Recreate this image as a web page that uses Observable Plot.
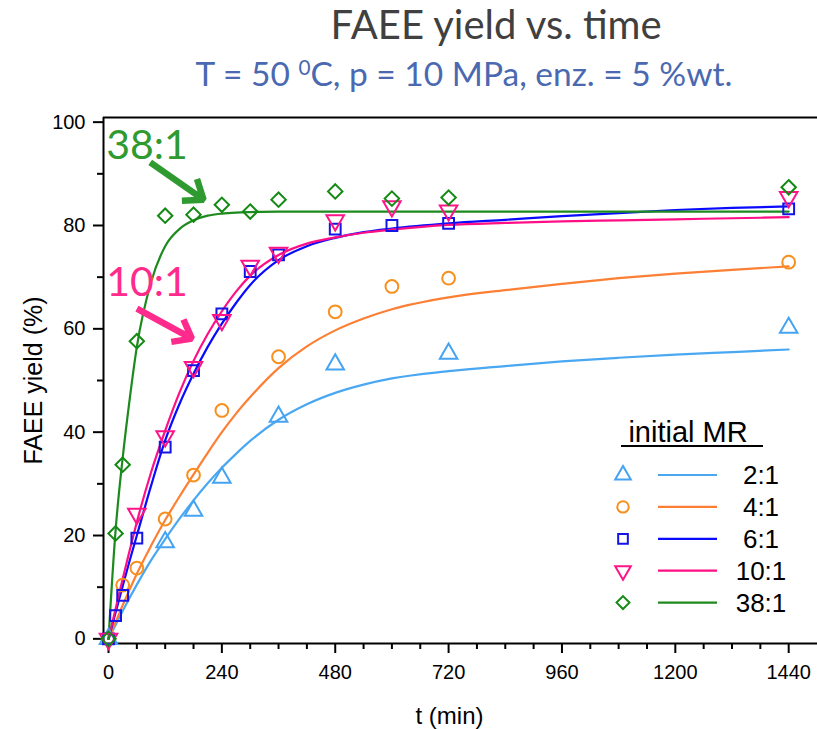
<!DOCTYPE html>
<html>
<head>
<meta charset="utf-8">
<script src="https://cdn.jsdelivr.net/npm/d3@7"></script>
<script src="https://cdn.jsdelivr.net/npm/@observablehq/plot@0.6"></script>
<style>
  body { margin: 0; background: #ffffff; }
  #page { position: relative; width: 817px; height: 729px; overflow: hidden; background: #fff; }
  #header { position: relative; width: 817px; height: 100px; }
  #title { position: absolute; left: 496px; top: 4px; transform: translateX(-50%); white-space: nowrap;
           font-family: Lato, "Open Sans", sans-serif; font-size: 40px; line-height: 40px; color: #404040; }
  #subtitle { position: absolute; left: 464px; top: 57px; transform: translateX(-50%); white-space: nowrap;
           font-family: Lato, "Open Sans", sans-serif; font-size: 33.5px; line-height: 33px; color: #4a69b0; }
  #subtitle sup { font-size: 0.62em; line-height: 0; vertical-align: 0.55em; }
  #chart { position: relative; width: 817px; height: 629px; }
  #legend { position: absolute; left: 600px; top: 300px; }
</style>
</head>
<body>
<div id="page">
  <div id="header">
    <div id="title">FAEE yield vs. time</div>
    <div id="subtitle">T = 50 <sup>0</sup>C, p = 10 MPa, enz. = 5 %wt.</div>
  </div>
  <div id="chart"></div>
</div>
<script>
// ---------- data ----------
const seriesNames = ["2:1", "4:1", "6:1", "10:1", "38:1"];

// measured points (t in min, FAEE yield in %)
const t_2_1  = [0, 120, 180, 240, 360, 480, 720, 1440];
const y_2_1  = [0, 18.7, 24.8, 31.2, 43.0, 53.1, 55.2, 60.2];
const t_4_1  = [0, 30, 60, 120, 180, 240, 360, 480, 600, 720, 1440];
const y_4_1  = [0, 10.4, 13.7, 23.2, 31.7, 44.2, 54.6, 63.3, 68.2, 69.8, 72.9];
const t_6_1  = [0, 15, 30, 60, 120, 180, 240, 300, 360, 480, 600, 720, 1440];
const y_6_1  = [0, 4.5, 8.4, 19.5, 37.1, 51.9, 62.9, 71.1, 74.3, 79.3, 80.0, 80.4, 83.2];
const t_10_1 = [0, 60, 120, 180, 240, 300, 360, 480, 600, 720, 1440];
const y_10_1 = [0, 24.2, 39.2, 52.6, 61.7, 72.2, 74.7, 81.0, 83.7, 82.9, 85.5];
const t_38_1 = [0, 15, 30, 60, 120, 180, 240, 300, 360, 480, 600, 720, 1440];
const y_38_1 = [0, 20.4, 33.7, 57.6, 81.9, 82.1, 84.0, 82.7, 85.0, 86.6, 85.2, 85.4, 87.4];

// fitted curves at these times
const fitT     = [0, 15, 30, 45, 60, 90, 120, 150, 180, 210, 240, 270, 300, 360, 420, 480, 540, 600, 720, 840, 960, 1080, 1200, 1320, 1440];
const fit_2_1  = [0, 2.7, 5.4, 8.0, 10.5, 15.2, 19.3, 23.2, 26.8, 30.1, 33.1, 35.8, 38.3, 42.4, 45.4, 47.6, 49.2, 50.4, 51.8, 52.8, 53.7, 54.4, 55.0, 55.5, 56.0];
const fit_4_1  = [0, 3.2, 6.5, 9.6, 12.6, 18.0, 23.0, 27.5, 31.8, 36.0, 40.0, 43.6, 46.8, 52.4, 56.6, 59.7, 62.0, 63.8, 66.1, 67.5, 68.7, 69.8, 70.7, 71.4, 72.1];
const fit_6_1  = [0, 5.1, 10.2, 15.2, 20.0, 29.6, 38.4, 45.4, 51.3, 56.5, 61.0, 65.0, 68.5, 73.3, 76.0, 77.6, 78.7, 79.4, 80.4, 81.1, 81.8, 82.4, 83.0, 83.4, 83.7];
const fit_10_1 = [0, 5.8, 11.6, 17.2, 22.6, 32.2, 40.3, 47.6, 53.8, 59.0, 63.4, 67.2, 70.3, 74.3, 76.5, 77.7, 78.6, 79.2, 80.1, 80.5, 80.8, 81.0, 81.2, 81.4, 81.6];
const fit_38_1 = [0, 21.0, 35.0, 46.5, 56.5, 69.0, 76.0, 79.3, 81.0, 81.9, 82.3, 82.5, 82.6, 82.7, 82.7, 82.7, 82.7, 82.7, 82.7, 82.7, 82.7, 82.7, 82.7, 82.7, 82.7];

// axis ticks
const xMajor = [0, 240, 480, 720, 960, 1200, 1440];
const xMinor = [60, 120, 180, 300, 360, 420, 540, 600, 660, 780, 840, 900, 1020, 1080, 1140, 1260, 1320, 1380];
const yMajor = [0, 20, 40, 60, 80, 100];
const yMinor = [10, 30, 50, 70, 90];
const xDomain = [-10.6, 1501];
const yDomain = [-0.9, 100.9];

// annotations
const annLabels = ["38:1", "10:1"];
const annT = [-5, -5];
const annY = [92.9, 66.4];
const arrowT1 = [88.3, 60.1];
const arrowY1 = [92.2, 63.9];
const arrowT2 = [201.2, 176.6];
const arrowY2 = [85.0, 58.1];

const xLabel = "t (min)";
const yLabel = "FAEE yield (%)";
const legendTitle = "initial MR";

// ---------- styles ----------
const markerColors = ["#45a3f2", "#f7901e", "#1414e6", "#ff1488", "#138a13"];
const lineColors   = ["#4aa8f2", "#fd7f34", "#0a0aff", "#ff0f86", "#1d8a1d"];
const symbols      = ["triangle", "circle", "square", "triangle", "diamond2"];
const rotations    = [0, 0, 0, 180, 0];
const radii        = [6.5, 6.4, 6.1, 6.5, 6.5];
const annColors    = ["#2f9a2f", "#ff2b8c"];

const pts = [[t_2_1, y_2_1], [t_4_1, y_4_1], [t_6_1, y_6_1], [t_10_1, y_10_1], [t_38_1, y_38_1]]
  .map(([ts, ys], k) => ts.map((t, i) => ({t, y: ys[i], s: k})));
const fits = [fit_2_1, fit_4_1, fit_6_1, fit_10_1, fit_38_1]
  .map((ys, k) => fitT.map((t, i) => ({t, y: ys[i], s: k})));
const ann = annLabels.map((label, i) => ({label, t: annT[i], y: annY[i], x1: arrowT1[i], y1: arrowY1[i], x2: arrowT2[i], y2: arrowY2[i], c: annColors[i]}));

const axisFont = "'Liberation Sans', Arial, sans-serif";

const marks = [
  // frame lines
  Plot.ruleY([yDomain[0]], {stroke: "black", strokeWidth: 2}),
  Plot.ruleY([yDomain[1]], {stroke: "black", strokeWidth: 2}),
  Plot.ruleX([xDomain[0]], {stroke: "black", strokeWidth: 2}),
  // axes
  Plot.axisX(xMajor, {tickSize: 10, tickPadding: 11, strokeWidth: 2, fontSize: 20, tickFormat: d => String(d)}),
  Plot.axisX(xMinor, {tickSize: 6, strokeWidth: 2, tickFormat: () => ""}),
  Plot.axisY(yMajor, {tickSize: 10, tickPadding: 8, strokeWidth: 2, fontSize: 20, tickFormat: d => String(d)}),
  Plot.axisY(yMinor, {tickSize: 6, strokeWidth: 2, tickFormat: () => ""}),
  Plot.text([xLabel], {frameAnchor: "bottom", textAnchor: "middle", dx: -11, dy: 80, fontSize: 24, fill: "black"}),
  Plot.text([yLabel], {frameAnchor: "left", textAnchor: "middle", dx: -70, rotate: -90, fontSize: 25, fill: "black"}),
];
fits.forEach((d, k) => marks.push(Plot.line(d, {x: "t", y: "y", stroke: lineColors[k], strokeWidth: 2.2, curve: "monotone-x"})));
pts.forEach((d, k) => marks.push(Plot.dot(d, {x: "t", y: "y", symbol: symbols[k], r: radii[k], rotate: rotations[k],
  stroke: markerColors[k], strokeWidth: 2, fill: "none"})));
marks.push(
  Plot.arrow(ann, {x1: "x1", y1: "y1", x2: "x2", y2: "y2", stroke: "c", strokeWidth: 6.5, headLength: 20, headAngle: 75,
    strokeLinejoin: "miter", strokeLinecap: "butt"}),
  Plot.text(ann, {x: "t", y: "y", text: "label", fill: "c", fontSize: 41, textAnchor: "start", lineAnchor: "bottom",
    fontFamily: "Lato, 'Open Sans', sans-serif"})
);

const chart = Plot.plot({
  width: 817,
  height: 629,
  marginTop: 17,
  marginLeft: 103,
  marginRight: 0,
  marginBottom: 86,
  x: {domain: xDomain, label: null},
  y: {domain: yDomain, label: null},
  color: {type: "identity"},
  style: {fontFamily: axisFont, background: "transparent", color: "black", overflow: "visible"},
  marks
});
document.getElementById("chart").appendChild(chart);

// ---------- legend (overlay inside the plot area) ----------
const lg = d3.select("#chart").append("svg").attr("id", "legend").attr("width", 217).attr("height", 230)
  .style("font-family", axisFont);
lg.append("text").attr("x", 88).attr("y", 42).attr("text-anchor", "middle").attr("font-size", 29).attr("fill", "black").text(legendTitle);
lg.append("line").attr("x1", 21).attr("x2", 163).attr("y1", 46).attr("y2", 46).attr("stroke", "black").attr("stroke-width", 2);
const symMap = {triangle: d3.symbolTriangle, circle: d3.symbolCircle, square: d3.symbolSquare, diamond2: d3.symbolDiamond2};
seriesNames.forEach((name, i) => {
  const y = 75 + i * 31.9;
  const g = lg.append("g");
  g.append("path").attr("d", d3.symbol(symMap[symbols[i]], Math.PI * radii[i] * radii[i] * 0.8)())
    .attr("transform", `translate(23,${y}) rotate(${rotations[i]})`)
    .attr("fill", "none").attr("stroke", markerColors[i]).attr("stroke-width", 2);
  g.append("line").attr("x1", 58).attr("x2", 117).attr("y1", y).attr("y2", y).attr("stroke", lineColors[i]).attr("stroke-width", 2.2);
  g.append("text").attr("x", 161).attr("y", y + 9).attr("text-anchor", "middle").attr("font-size", 26).attr("fill", "black").text(name);
});
</script>
</body>
</html>
